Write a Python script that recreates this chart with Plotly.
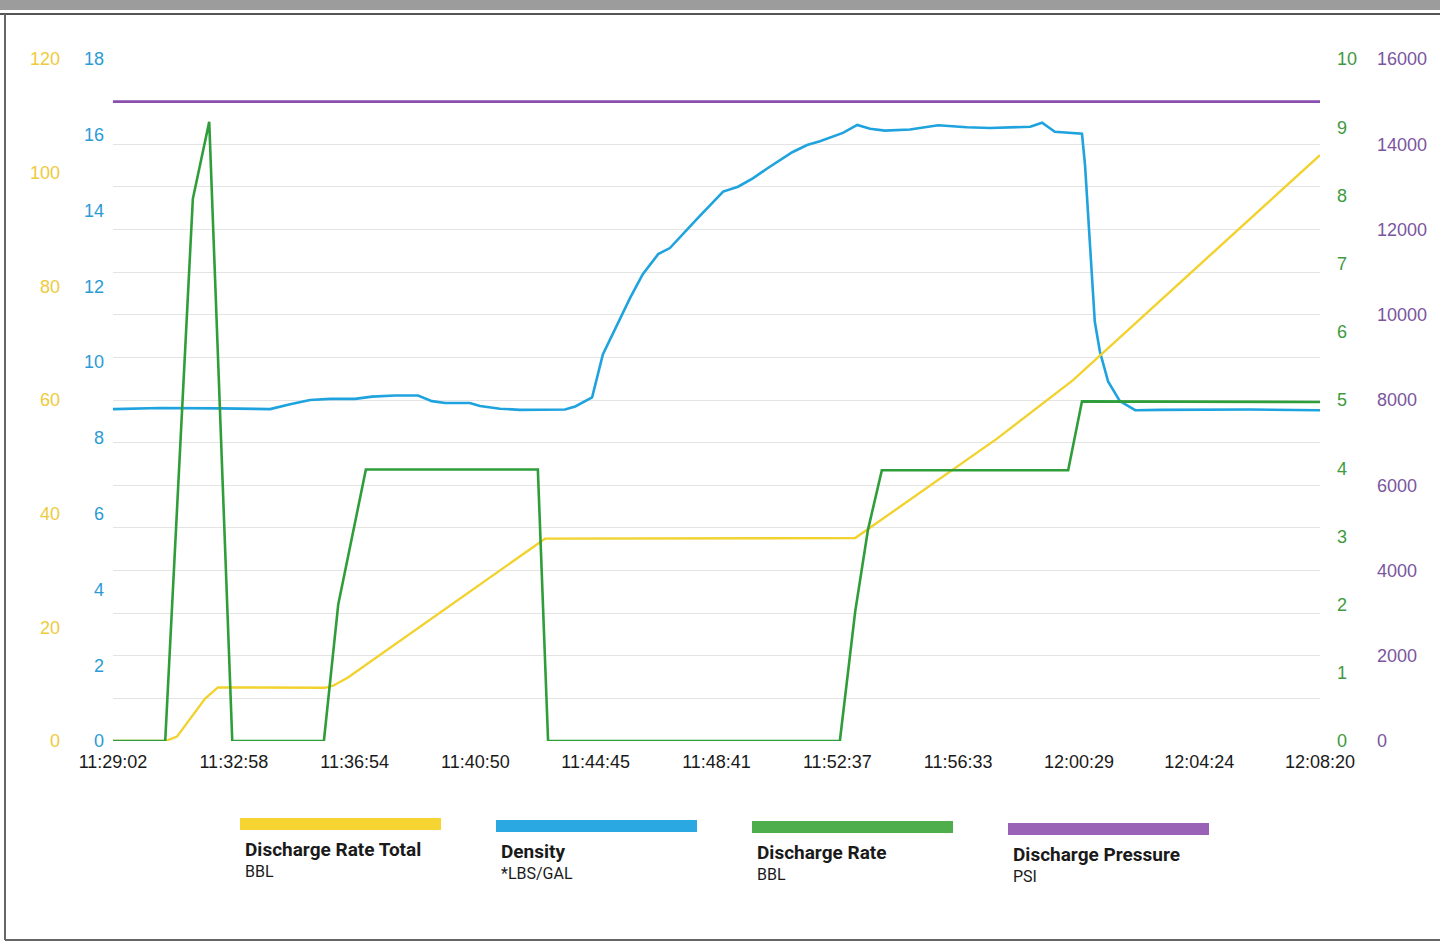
import plotly.graph_objects as go

DAY = "2023-01-01 "

# ---- data ----
time_total = ["11:29:02", "11:30:44", "11:31:07", "11:32:02", "11:32:27", "11:35:56", "11:36:12",
              "11:36:41", "11:43:06", "11:53:12", "11:57:49", "12:00:17", "12:03:07", "12:08:20"]
discharge_total = [0, 0, 0.77, 7.48, 9.43, 9.36, 9.73, 11.16, 35.6, 35.7, 53.2, 63.45, 77.4, 103.1]

time_density = ["11:29:02", "11:30:34", "11:32:31", "11:34:09", "11:34:48", "11:35:27", "11:36:06",
                "11:36:55", "11:37:28", "11:38:13", "11:38:58", "11:39:25", "11:39:51", "11:40:39",
                "11:40:59", "11:41:38", "11:42:17", "11:43:45", "11:44:05", "11:44:38", "11:44:59",
                "11:45:23", "11:45:52", "11:46:17", "11:46:47", "11:47:10", "11:47:36", "11:48:03",
                "11:48:54", "11:49:23", "11:49:52", "11:50:20", "11:51:09", "11:51:38", "11:52:03",
                "11:52:48", "11:53:16", "11:53:41", "11:54:10", "11:54:59", "11:55:54", "11:56:50",
                "11:57:35", "11:58:54", "11:59:17", "11:59:42", "12:00:35", "12:00:41", "12:01:00",
                "12:01:10", "12:01:26", "12:01:49", "12:02:19", "12:03:07", "12:06:03", "12:08:20"]
density = [8.76, 8.79, 8.78, 8.76, 8.89, 9.00, 9.03, 9.03, 9.09, 9.12, 9.12, 8.97, 8.92, 8.92,
           8.84, 8.77, 8.74, 8.75, 8.83, 9.07, 10.2, 10.89, 11.69, 12.32, 12.85, 13.01, 13.39, 13.78,
           14.5, 14.63, 14.85, 15.11, 15.54, 15.73, 15.83, 16.05, 16.26, 16.16, 16.11, 16.14, 16.25, 16.2,
           16.18, 16.21, 16.32, 16.08, 16.03, 15.19, 11.07, 10.28, 9.49, 8.97, 8.73, 8.74, 8.75, 8.73]

time_rate = ["11:29:02", "11:30:44", "11:31:38", "11:32:10", "11:32:55", "11:35:54", "11:36:22",
             "11:37:16", "11:42:52", "11:43:12", "11:52:42", "11:53:12", "11:53:37", "11:54:04",
             "12:00:08", "12:00:35", "12:08:20"]
discharge_rate = [0, 0, 7.95, 9.08, 0, 0, 2.0, 3.98, 3.98, 0, 0, 1.9, 3.1, 3.97, 3.97, 4.98, 4.97]

time_pressure = ["11:29:02", "11:48:41", "12:08:20"]
discharge_pressure = [15000, 15000, 15000]

x_tick_labels = ["11:29:02", "11:32:58", "11:36:54", "11:40:50", "11:44:45", "11:48:41",
                 "11:52:37", "11:56:33", "12:00:29", "12:04:24", "12:08:20"]

series_names = ["Discharge Rate Total", "Density", "Discharge Rate", "Discharge Pressure"]
series_units = ["BBL", "*LBS/GAL", "BBL", "PSI"]

# ---- styles ----
C_YEL, C_BLU, C_GRN, C_PUR = "#F2D22E", "#1FA3DE", "#2F9E3A", "#8A4FAE"
L_YEL, L_BLU, L_GRN, L_PUR = "#EDCB3C", "#2B9BD6", "#3E9A3E", "#7C55A0"
LEG_COLORS = ["#F6D432", "#2AA8E2", "#4FAE4C", "#9A62B6"]
FONT = "Liberation Sans, Arial, sans-serif"
LEG_FONT = "Liberation Sans Narrow, Arial Narrow, Roboto, sans-serif"
W, H = 1440, 943

def t(lst):
    return [DAY + s for s in lst]

fig = go.Figure()
fig.add_trace(go.Scatter(x=t(time_pressure), y=discharge_pressure, yaxis="y4", mode="lines",
                         line=dict(color=C_PUR, width=2.6), name=series_names[3]))
fig.add_trace(go.Scatter(x=t(time_total), y=discharge_total, yaxis="y2", mode="lines",
                         line=dict(color=C_YEL, width=2.4), name=series_names[0]))
fig.add_trace(go.Scatter(x=t(time_density), y=density, yaxis="y", mode="lines",
                         line=dict(color=C_BLU, width=2.6), name=series_names[1]))
fig.add_trace(go.Scatter(x=t(time_rate), y=discharge_rate, yaxis="y3", mode="lines",
                         line=dict(color=C_GRN, width=2.6), name=series_names[2]))

x0, x1 = 113 / W, 1320 / W
y_dom = [1 - 741 / H, 1 - 59 / H]

fig.update_layout(
    width=W, height=H,
    margin=dict(l=0, r=0, t=0, b=0, autoexpand=False),
    paper_bgcolor="white", plot_bgcolor="white",
    showlegend=False,
    xaxis=dict(type="date", domain=[x0, x1],
               range=[DAY + x_tick_labels[0], DAY + x_tick_labels[-1]],
               tickvals=t(x_tick_labels), ticktext=x_tick_labels,
               showgrid=False, zeroline=False, showline=False,
               ticks="outside", ticklen=4, tickcolor="rgba(0,0,0,0)",
               automargin=False,
               tickfont=dict(family=FONT, size=18, color="#1a1a1a")),
    yaxis=dict(domain=y_dom, range=[0, 18], dtick=2, anchor="free", position=104 / W,
               side="left", showgrid=False, zeroline=False, ticks="", automargin=False,
               tickfont=dict(family=FONT, size=18, color=L_BLU)),
    yaxis2=dict(range=[0, 120], dtick=20, overlaying="y", anchor="free", position=60 / W,
                side="left", showgrid=False, zeroline=False, ticks="", automargin=False,
                tickfont=dict(family=FONT, size=18, color=L_YEL)),
    yaxis3=dict(range=[0, 10], dtick=1, overlaying="y", anchor="free", position=1336 / W,
                side="right", showgrid=False, zeroline=False, ticks="", automargin=False,
                tickfont=dict(family=FONT, size=18, color=L_GRN)),
    yaxis4=dict(range=[0, 16000], dtick=2000, tickformat="d", overlaying="y", anchor="free",
                position=1376 / W, side="right", showgrid=True, gridcolor="#e4e4e4", gridwidth=1,
                minor=dict(dtick=1000, showgrid=True, gridcolor="#e4e4e4", gridwidth=1),
                zeroline=False, ticks="", automargin=False,
                tickfont=dict(family=FONT, size=18, color=L_PUR)),
)

# scan frame
shapes = [
    dict(type="rect", xref="paper", yref="paper", x0=0, x1=1, y0=1 - 10 / H, y1=1,
         fillcolor="#9c9c9c", line=dict(width=0), layer="above"),
    dict(type="line", xref="paper", yref="paper", x0=0, x1=1, y0=1 - 14 / H, y1=1 - 14 / H,
         line=dict(color="#555555", width=2)),
    dict(type="line", xref="paper", yref="paper", x0=5 / W, x1=5 / W, y0=1 - 940 / H, y1=1 - 14 / H,
         line=dict(color="#666666", width=2)),
    dict(type="line", xref="paper", yref="paper", x0=5 / W, x1=1, y0=1 - 940 / H, y1=1 - 940 / H,
         line=dict(color="#666666", width=2)),
]

# custom legend
annotations = []
leg_x = [240, 496, 752, 1008]
leg_dy = [0, 2, 3, 5]
for i in range(4):
    bx = leg_x[i]
    by = 818 + leg_dy[i]
    shapes.append(dict(type="rect", xref="paper", yref="paper",
                       x0=bx / W, x1=(bx + 201) / W, y0=1 - (by + 12) / H, y1=1 - by / H,
                       fillcolor=LEG_COLORS[i], line=dict(width=0)))
    annotations.append(dict(xref="paper", yref="paper", x=(bx + 3) / W, y=1 - (by + 31) / H,
                            xanchor="left", yanchor="middle", showarrow=False,
                            text="<b>" + series_names[i] + "</b>",
                            font=dict(family=LEG_FONT, size=19, color="#1a1a1a")))
    annotations.append(dict(xref="paper", yref="paper", x=(bx + 3) / W, y=1 - (by + 53) / H,
                            xanchor="left", yanchor="middle", showarrow=False,
                            text=series_units[i],
                            font=dict(family=LEG_FONT, size=16, color="#1a1a1a")))

fig.update_layout(shapes=shapes, annotations=annotations)
fig.write_html("out.html", config={"displayModeBar": False},
               post_script="document.body.style.margin='0';document.body.style.overflow='hidden';")
